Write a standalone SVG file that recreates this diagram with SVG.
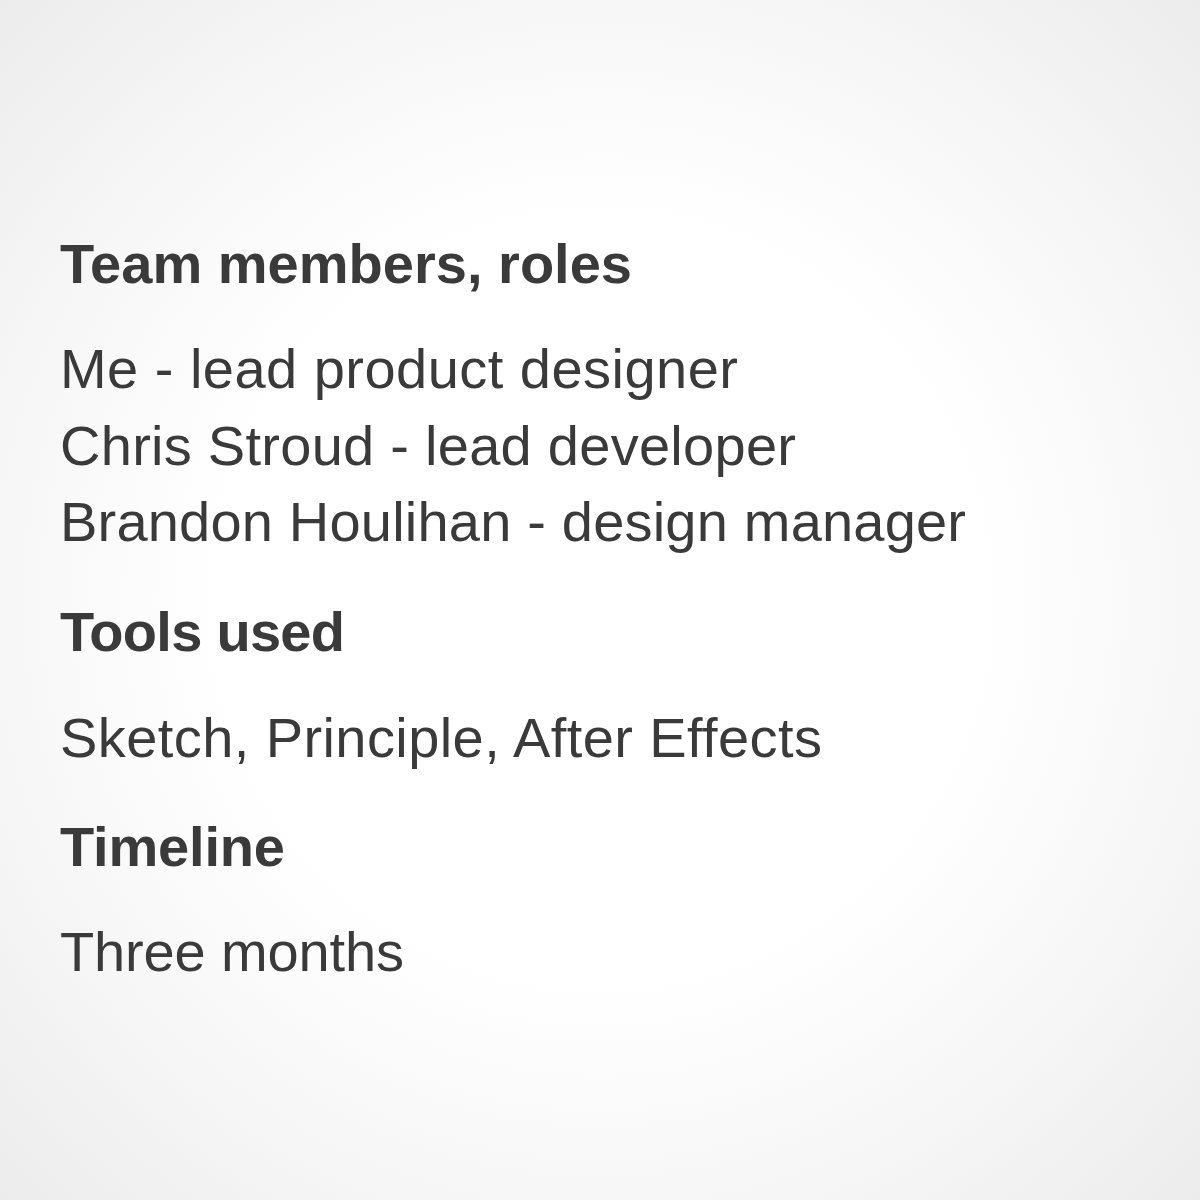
<svg xmlns="http://www.w3.org/2000/svg" width="1200" height="1200" viewBox="0 0 1200 1200">
<defs>
<radialGradient id="bg" cx="600" cy="600" r="850" gradientUnits="userSpaceOnUse">
<stop offset="0" stop-color="#ffffff"/>
<stop offset="0.45" stop-color="#ffffff"/>
<stop offset="0.7" stop-color="#f7f7f7"/>
<stop offset="1" stop-color="#ececec"/>
</radialGradient>
</defs>
<style>
.h{font-family:"Liberation Sans",Arial,sans-serif;font-weight:bold;font-size:56px;fill:#3a3a3a}
.t{font-family:"Liberation Sans",Arial,sans-serif;font-size:56px;fill:#3a3a3a}
</style>
<rect width="1200" height="1200" fill="url(#bg)"/>
<g id="team">
<text class="h" x="60" y="283" textLength="572" lengthAdjust="spacing">Team members, roles</text>
<text class="t" x="60" y="388" textLength="678" lengthAdjust="spacing">Me - lead product designer</text>
<text class="t" x="60" y="465" textLength="736" lengthAdjust="spacing">Chris Stroud - lead developer</text>
<text class="t" x="60" y="541" textLength="906" lengthAdjust="spacing">Brandon Houlihan - design manager</text>
</g>
<g id="tools">
<text class="h" x="60" y="651" textLength="285" lengthAdjust="spacing">Tools used</text>
<text class="t" x="60" y="757" textLength="762" lengthAdjust="spacing">Sketch, Principle, After Effects</text>
</g>
<g id="timeline">
<text class="h" x="60" y="866" textLength="225" lengthAdjust="spacing">Timeline</text>
<text class="t" x="60" y="971" textLength="344" lengthAdjust="spacing">Three months</text>
</g>
</svg>
